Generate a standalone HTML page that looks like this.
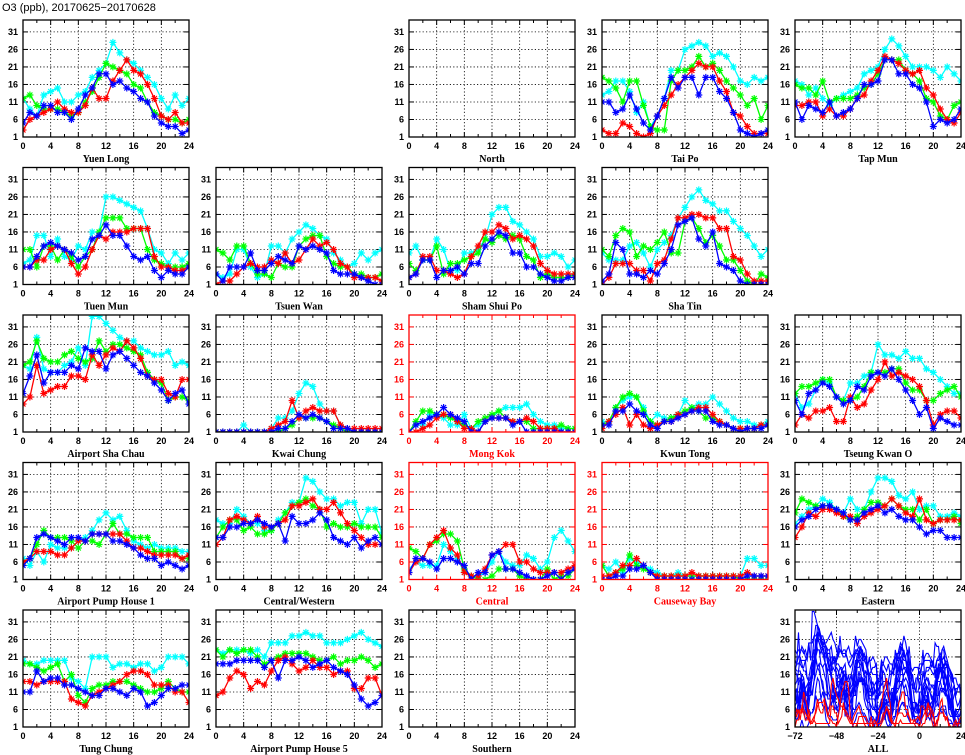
<!DOCTYPE html>
<html><head><meta charset="utf-8">
<style>
html,body{margin:0;padding:0;background:#fff;}
svg{display:block;font-family:"Liberation Sans",sans-serif;}
</style></head>
<body>
<svg id="chart" width="965" height="755" viewBox="0 0 965 755">
<text x="2" y="11" font-size="11" fill="#000">O3 (ppb), 20170625−20170628</text>
</svg>
<script>
const hours=[0,1,2,3,4,5,6,7,8,9,10,11,12,13,14,15,16,17,18,19,20,21,22,23,24];
const xTickLabels=[0,4,8,12,16,20,24];
const yTickLabels=[1,6,11,16,21,26,31];
const allTickLabels=[-72,-48,-24,0,24];
const seriesColors=["#00ffff","#00ff00","#ff0000","#0000ff"];
// order per station: cyan, green, red, blue
const yuenLong=[[12,9,7,13,14,15,11,11,13,14,18,20,22,28,25,23,22,20,18,16,12,9,13,10,12],[12,13,10,9,9,9,8,7,8,11,14,18,22,21,20,19,16,15,11,8,7,6,6,5,6],[3,6,7,8,9,11,9,8,8,10,15,12,12,17,20,23,20,19,16,12,7,6,8,5,5],[5,8,7,10,10,8,8,6,9,13,15,19,19,16,17,15,14,12,11,7,5,4,4,2,3]];
const taiPo=[[13,14,17,17,14,8,11,4,7,12,20,20,26,27,28,27,24,25,24,21,17,16,18,17,18],[18,17,15,11,17,17,10,4,3,3,17,20,20,21,24,21,22,20,17,15,13,10,12,6,10],[3,2,2,5,4,2,1,2,7,10,13,16,18,20,22,21,21,17,14,8,7,4,2,2,2],[11,11,8,9,13,9,5,3,7,12,18,15,18,18,13,18,18,14,12,8,3,2,1,2,3]];
const tapMun=[[17,16,13,15,12,10,12,13,14,15,19,20,21,26,29,27,24,21,21,21,20,18,21,19,17],[16,15,15,13,17,11,12,12,12,13,15,16,19,23,23,23,20,19,17,12,11,7,6,10,11],[10,10,11,11,7,9,7,7,9,12,13,17,20,24,23,22,20,19,20,15,13,9,6,5,8],[11,6,10,9,8,11,7,8,9,12,16,16,17,23,23,19,19,16,15,11,4,6,5,6,9]];
const tuenMun=[[7,8,15,15,9,14,9,8,12,11,16,16,26,26,25,24,23,22,17,11,10,7,10,8,10],[11,11,6,12,12,8,11,9,6,9,11,16,20,20,20,17,17,17,11,8,7,6,6,6,7],[6,6,8,8,11,12,11,7,4,6,11,15,14,16,16,16,17,17,17,9,6,6,5,5,6],[6,6,9,12,13,12,11,10,8,9,14,15,18,15,15,12,9,8,9,5,3,5,4,4,6]];
const tsuenWan=[[4,3,4,11,11,6,3,4,12,12,10,14,16,18,17,15,14,10,8,6,7,10,8,10,11],[11,10,8,12,12,7,4,4,3,7,6,6,12,14,15,15,9,7,6,6,4,4,3,3,4],[1,2,2,4,6,7,6,6,8,7,10,7,8,11,14,12,13,11,7,6,3,3,3,3,2],[4,2,6,6,6,10,5,5,7,9,8,7,12,11,12,11,10,5,4,4,4,3,2,1,1]];
const shamShuiPo=[[10,12,8,8,14,11,5,5,10,10,11,14,21,23,23,19,18,16,14,9,9,10,9,6,8],[7,5,8,8,12,4,7,7,8,9,10,14,13,15,14,15,14,9,8,3,4,3,3,3,4],[3,4,9,9,5,5,4,3,4,9,12,16,16,18,17,14,15,14,12,7,5,4,4,4,4],[3,4,8,8,3,5,5,6,4,7,7,12,14,16,15,10,10,6,6,4,3,2,2,3,3]];
const shaTin=[[10,8,8,8,12,13,10,6,11,13,15,20,23,26,28,25,24,22,22,19,17,15,12,9,11],[11,9,15,17,16,9,12,11,13,16,10,10,19,20,17,13,15,12,8,8,5,2,1,4,3],[1,3,7,7,7,5,5,2,7,8,14,20,20,21,21,20,20,17,17,9,8,4,2,2,2],[2,4,13,11,4,4,3,5,4,7,11,18,19,20,14,12,16,7,6,5,2,1,1,1,1]];
const airportShaChau=[[20,19,28,19,18,18,20,21,25,20,34,34,32,30,28,27,27,25,24,23,23,24,20,21,20],[20,21,27,22,21,21,23,24,22,21,22,27,24,26,26,25,24,23,18,16,15,10,11,11,10],[9,11,20,12,13,14,14,17,17,16,23,20,23,25,24,27,25,22,17,16,16,12,11,16,16],[12,17,23,15,18,18,18,20,19,25,24,24,19,23,24,22,20,18,17,15,13,10,12,13,9]];
const kwaiChung=[[1,1,1,1,3,1,1,1,2,5,5,7,12,15,14,9,7,7,3,2,1,1,1,1,1],[1,1,1,1,1,1,1,1,1,1,2,3,5,5,5,5,4,3,2,1,1,1,1,1,1],[1,1,1,1,1,1,1,1,2,3,4,10,5,7,8,7,7,7,3,2,2,2,2,2,2],[1,1,1,1,1,1,1,1,1,2,2,4,6,5,6,5,4,2,2,2,1,1,1,1,1]];
const mongKok=[[1,3,3,6,6,5,3,3,6,2,3,4,5,7,8,8,8,9,6,4,3,3,2,2,2],[1,4,7,7,6,6,5,4,3,2,4,5,6,7,5,4,4,4,2,2,2,2,3,2,2],[1,1,2,3,5,6,6,4,2,2,1,4,5,5,5,4,4,5,4,2,2,2,1,1,1],[1,3,4,5,6,8,6,5,4,1,1,4,5,5,5,3,4,1,1,1,1,1,1,1,1]];
const kwunTong=[[4,4,8,10,11,11,8,4,6,5,5,6,10,8,9,9,11,9,7,5,4,4,3,3,4],[3,4,8,11,12,11,7,4,3,4,5,6,7,8,7,5,5,4,3,2,2,2,2,3,3],[2,4,6,8,3,6,3,2,3,4,4,6,6,7,8,8,6,4,3,2,2,2,2,3,3],[3,3,7,7,9,7,6,3,2,4,4,5,6,7,7,7,4,3,3,2,1,2,2,2,3]];
const tseungKwanO=[[12,8,9,13,16,15,11,10,15,15,17,18,26,23,23,22,24,22,22,19,18,16,14,12,12],[12,14,14,15,16,16,11,10,10,11,14,18,18,18,19,19,15,13,13,10,10,12,13,14,11],[3,6,5,7,7,8,4,4,11,8,9,13,16,21,17,18,17,16,14,10,3,6,7,7,5],[10,6,12,13,15,14,11,9,10,14,13,17,18,17,19,16,13,10,6,8,2,5,4,3,3]];
const pumpHouse1=[[7,5,9,6,11,10,10,10,12,13,15,18,20,18,19,15,12,11,10,11,10,10,10,9,9],[6,7,11,15,13,13,13,12,10,12,12,11,14,17,14,14,13,13,13,9,9,9,9,7,7],[6,7,9,9,9,8,8,10,12,12,14,14,14,14,14,12,10,10,9,8,8,8,8,7,8],[5,7,13,14,13,12,11,13,13,12,14,14,14,12,12,11,10,8,7,7,5,6,5,4,5]];
const centralWestern=[[18,17,17,21,19,17,17,15,15,18,20,23,23,30,29,26,24,24,22,23,23,17,21,21,14],[13,16,18,18,15,16,14,14,15,17,20,22,23,24,22,21,16,17,16,16,17,16,16,16,13],[11,13,18,19,18,17,19,16,16,17,18,22,22,23,24,21,21,23,20,17,15,13,11,11,11],[13,13,16,16,17,17,18,17,16,17,12,19,17,17,18,20,18,13,12,11,13,10,12,13,11]];
const central=[[4,6,5,5,5,11,9,7,3,2,2,3,6,9,6,5,5,8,7,4,6,13,15,12,9],[10,9,7,11,12,14,14,12,4,2,1,1,2,4,4,4,2,1,1,1,4,1,2,2,4],[3,6,7,11,13,15,10,8,3,2,2,4,8,9,11,11,6,6,4,3,3,3,3,4,5],[3,7,7,6,4,7,7,6,5,1,3,3,8,9,4,4,3,2,1,1,2,3,1,3,4]];
const causewayBay=[[5,4,6,3,7,6,5,4,3,2,2,3,2,2,2,2,2,2,2,2,2,7,7,5,5],[5,2,3,4,8,5,4,3,2,2,2,2,2,2,2,2,2,2,2,2,1,1,1,1,1],[2,2,3,5,5,7,5,3,2,2,2,2,2,3,2,2,2,2,2,2,2,3,2,2,2],[1,1,2,2,4,4,5,3,1,1,1,1,1,1,1,1,1,1,1,1,1,2,2,2,2]];
const eastern=[[17,19,21,22,24,23,21,20,24,21,21,26,30,30,29,25,24,26,21,22,22,19,19,20,19],[20,24,23,22,22,22,21,19,18,19,21,23,23,22,24,22,21,21,18,21,17,18,18,19,17],[13,16,20,19,21,21,20,19,19,17,19,20,21,22,24,22,20,19,24,18,17,18,18,18,18],[16,18,19,21,22,22,21,20,18,18,20,21,22,20,21,19,18,18,16,14,15,15,13,13,13]];
const tungChung=[[20,19,19,20,20,20,20,15,14,12,21,21,21,18,19,19,18,19,19,17,18,21,21,21,19],[19,19,18,17,18,19,14,16,10,8,12,13,13,14,14,14,13,12,11,11,12,14,12,11,11],[14,14,13,14,14,14,14,9,8,7,10,11,12,13,14,16,17,17,16,13,13,13,11,11,8],[11,11,17,14,15,15,13,13,12,11,10,10,12,12,11,10,12,11,7,8,10,12,12,13,13]];
const pumpHouse5=[[23,22,23,23,23,22,23,21,25,25,25,27,27,28,27,27,25,25,25,26,27,28,26,25,24],[23,21,23,22,23,23,21,19,20,21,22,22,22,22,21,20,20,21,19,20,20,21,20,18,19],[10,11,15,17,16,12,14,13,17,20,21,19,17,18,20,18,18,16,17,17,12,12,15,15,10],[19,19,19,20,20,20,20,18,20,15,20,20,21,20,18,19,20,18,17,16,13,9,7,8,10]];

const NS="http://www.w3.org/2000/svg";
const svg=document.getElementById('chart');
const PW=166,PH=117,YMIN=1,YMAX=34.4;
function mk(tag,attrs,parent){const e=document.createElementNS(NS,tag);for(const k in attrs)e.setAttribute(k,attrs[k]);(parent||svg).appendChild(e);return e;}
function slug(s){return s.toLowerCase().replace(/[^a-z0-9]+/g,'-').replace(/^-|-$/g,'');}

function panel(col,row,name,data,isRed,opts){
  opts=opts||{};
  const x0=23+193*col, y0=20+147.5*row;
  const xmin=opts.xmin!==undefined?opts.xmin:0, xmax=opts.xmax!==undefined?opts.xmax:24;
  const xt=opts.xticks||xTickLabels;
  const sx=v=>x0+(v-xmin)/(xmax-xmin)*PW;
  const sy=v=>y0+(YMAX-v)/(YMAX-YMIN)*PH;
  const fc=isRed?"#ff0000":"#000";
  const g=mk('g',{});
  
  
  const cid='clip-'+slug(name);
  const cp=mk('clipPath',{id:cid},g);
  mk('rect',{x:x0,y:y0,width:PW,height:PH},cp);
  // grid
  xt.forEach((t,i)=>{ if(i>0&&i<xt.length-1){const l=mk('line',{x1:sx(t),x2:sx(t),y1:y0,y2:y0+PH,stroke:'#000','stroke-width':0.8,'stroke-dasharray':'1.2,2.2'},g);
    
    }});
  yTickLabels.forEach(t=>{ if(t>YMIN){const l=mk('line',{x1:x0,x2:x0+PW,y1:sy(t),y2:sy(t),stroke:'#000','stroke-width':0.8,'stroke-dasharray':'1.2,2.2'},g);
    
    }});
  // ticks
  const step=(xt[1]-xt[0])/2;
  for(let v=xmin; v<=xmax+0.001; v+=step){
    const major=Math.abs(((v-xmin)/(step*2))%1)<0.001;
    const len=major?5:3;
    mk('line',{x1:sx(v),x2:sx(v),y1:y0,y2:y0+len,stroke:fc,'stroke-width':1},g);
    mk('line',{x1:sx(v),x2:sx(v),y1:y0+PH,y2:y0+PH-len,stroke:fc,'stroke-width':1},g);
  }
  yTickLabels.forEach(t=>{
    mk('line',{x1:x0,x2:x0+5,y1:sy(t),y2:sy(t),stroke:fc,'stroke-width':1},g);
    mk('line',{x1:x0+PW,x2:x0+PW-5,y1:sy(t),y2:sy(t),stroke:fc,'stroke-width':1},g);
    const tl=mk('text',{x:x0-5,y:sy(t)+3,'text-anchor':'end','font-size':9,'font-weight':'bold',fill:fc},g);
    tl.textContent=t;
    
    
  });
  xt.forEach(t=>{
    const tl=mk('text',{x:sx(t),y:y0+PH+12,'text-anchor':'middle','font-size':9,'font-weight':'bold',fill:fc},g);
    tl.textContent=(t<0?'−'+(-t):t);
    
    
  });
  const ttl=mk('text',{x:x0+PW/2,y:y0+PH+25,'text-anchor':'middle','font-size':10,'font-weight':'bold',fill:fc,'font-family':'"Liberation Serif",serif'},g);
  ttl.textContent=name;
  
  
  // series
  const sg=mk('g',{'clip-path':'url(#'+cid+')'},g);
  if(opts.all){
    opts.all.forEach(st=>{
      let pts=[];
      st.data.forEach((ser,d)=>{ser.forEach((v,h)=>{ if(h<24||d===st.data.length-1) pts.push([xmin+24*d+hours[h],v]);});});
      const p=mk('polyline',{points:pts.map(p=>sx(p[0]).toFixed(1)+','+sy(p[1]).toFixed(1)).join(' '),fill:'none',stroke:st.red?'#ff0000':'#0000ff','stroke-width':1.1},sg);
      
      
    });
  } else if(data){
    data.forEach((ser,si)=>{
      const col=seriesColors[si];
      const p=mk('polyline',{points:ser.map((v,h)=>sx(hours[h]).toFixed(1)+','+sy(v).toFixed(1)).join(' '),fill:'none',stroke:col,'stroke-width':1.3},sg);
      
      
      ser.forEach((v,h)=>{
        const m=mk('path',{d:'M-3.5,0h7M0,-3.5v7M-2.5,-2.5l5,5M-2.5,2.5l5,-5',transform:'translate('+sx(hours[h]).toFixed(1)+','+sy(v).toFixed(1)+')',stroke:col,'stroke-width':1.2,fill:'none'},sg);
        
        
      });
    });
  }
  // frame
  const fr=mk('rect',{x:x0,y:y0,width:PW,height:PH,fill:'none',stroke:fc,'stroke-width':1.3},g);
  
  
}

panel(0,0,'Yuen Long',yuenLong,false);
panel(2,0,'North',null,false);
panel(3,0,'Tai Po',taiPo,false);
panel(4,0,'Tap Mun',tapMun,false);
panel(0,1,'Tuen Mun',tuenMun,false);
panel(1,1,'Tsuen Wan',tsuenWan,false);
panel(2,1,'Sham Shui Po',shamShuiPo,false);
panel(3,1,'Sha Tin',shaTin,false);
panel(0,2,'Airport Sha Chau',airportShaChau,false);
panel(1,2,'Kwai Chung',kwaiChung,false);
panel(2,2,'Mong Kok',mongKok,true);
panel(3,2,'Kwun Tong',kwunTong,false);
panel(4,2,'Tseung Kwan O',tseungKwanO,false);
panel(0,3,'Airport Pump House 1',pumpHouse1,false);
panel(1,3,'Central/Western',centralWestern,false);
panel(2,3,'Central',central,true);
panel(3,3,'Causeway Bay',causewayBay,true);
panel(4,3,'Eastern',eastern,false);
panel(0,4,'Tung Chung',tungChung,false);
panel(1,4,'Airport Pump House 5',pumpHouse5,false);
panel(2,4,'Southern',null,false);
panel(4,4,'ALL',null,false,{xmin:-72,xmax:24,xticks:allTickLabels,all:[
  {data:yuenLong},{data:taiPo},{data:tapMun},{data:tuenMun},{data:tsuenWan},{data:shamShuiPo},{data:shaTin},
  {data:airportShaChau},{data:kwaiChung},{data:kwunTong},{data:tseungKwanO},{data:pumpHouse1},{data:centralWestern},
  {data:eastern},{data:tungChung},{data:pumpHouse5},
  {data:mongKok,red:true},{data:central,red:true},{data:causewayBay,red:true}]});
</script>
</body></html>
